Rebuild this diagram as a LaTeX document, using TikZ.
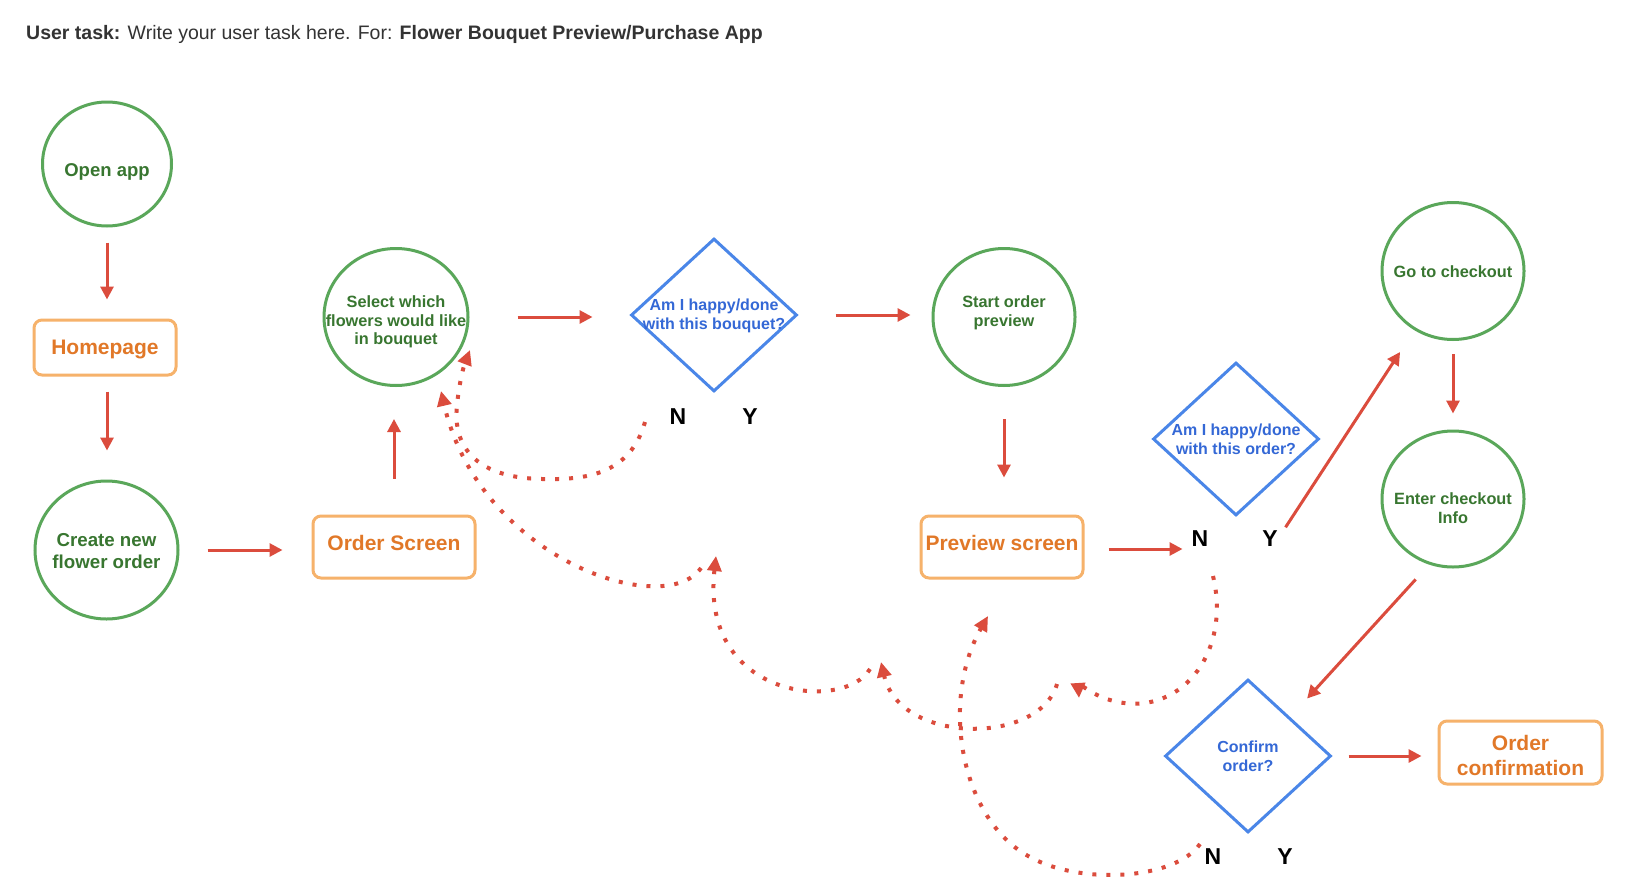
\documentclass[tikz,border=0pt]{standalone}
\usepackage{fontspec}
\setmainfont{Liberation Sans}
\usetikzlibrary{shapes.geometric,arrows.meta}
\definecolor{ared}{RGB}{219,76,61}
\definecolor{cgreen}{RGB}{90,167,90}
\definecolor{tgreen}{RGB}{56,118,48}
\definecolor{corange}{RGB}{246,178,107}
\definecolor{torange}{RGB}{225,120,40}
\definecolor{cblue}{RGB}{74,134,232}
\definecolor{tblue}{RGB}{52,104,214}
\definecolor{tgray}{RGB}{51,51,51}
\begin{document}
\begin{tikzpicture}[x=1pt,y=-1pt,
  circ/.style={ellipse, draw=cgreen, line width=3pt, minimum width=142pt, minimum height=137pt, inner sep=0pt},
  ctext/.style={text=tgreen, align=center, font=\bfseries\fontsize{16.3}{18.7}\selectfont},
  box/.style={rectangle, rounded corners=8pt, draw=corange, line width=3pt, minimum width=162pt, minimum height=62pt, inner sep=0pt},
  btext/.style={text=torange, align=center, font=\bfseries\fontsize{21}{25}\selectfont},
  dia/.style={diamond, draw=cblue, line width=3pt, minimum width=166pt, minimum height=153pt, inner sep=0pt},
  dtext/.style={text=tblue, align=center, font=\bfseries\fontsize{16}{18.7}\selectfont},
  yn/.style={font=\bfseries\fontsize{23}{23}\selectfont, inner sep=0pt},
  arr/.style={draw=ared, line width=3pt, -{Triangle[length=13pt,width=13pt]}},
  dots/.style={draw=ared, line width=4pt, dash pattern=on 4pt off 10pt, -{Triangle[length=15pt,width=14pt]}}
]
\useasboundingbox[fill=white] (0,0) rectangle (1630,886);

\node[anchor=west, text=tgray, font=\fontsize{19.5}{23}\selectfont, inner sep=0pt] (title) at (26,34)
  {\textbf{User task:} Write your user task here. For: \textbf{Flower Bouquet Preview/Purchase App}};

% circles
\node[circ, minimum width=129pt, minimum height=124pt, label={[ctext, font=\bfseries\fontsize{18.5}{21}\selectfont, yshift=-8pt]center:Open app}] (open) at (107,164) {};
\node[circ, minimum width=143pt, minimum height=138pt, label={[ctext, font=\bfseries\fontsize{18.7}{22.5}\selectfont, yshift=-1pt]center:{Create new\\flower order}}] (create) at (106.5,550) {};
\node[circ, minimum width=144pt, label={[ctext, yshift=-5pt]center:{Select which\\flowers would like\\in bouquet}}] (select) at (396,317) {};
\node[circ, label={[ctext, yshift=4pt]center:{Start order\\preview}}] (start) at (1004,317) {};
\node[circ, label={[ctext, yshift=-1pt]center:Go to checkout}] (go) at (1453,271) {};
\node[circ, minimum height=136pt, label={[ctext, yshift=-9pt]center:{Enter checkout\\Info}}] (enter) at (1453,499) {};

% boxes
\node[box, minimum width=142pt, minimum height=55pt, label={[btext, yshift=-2pt]center:Homepage}] (home) at (105,347.5) {};
\node[box, label={[btext, yshift=4pt]center:Order Screen}] (order) at (394,547) {};
\node[box, label={[btext, yshift=4pt]center:Preview screen}] (preview) at (1002,547) {};
\node[box, minimum width=163pt, minimum height=63pt, label={[btext, yshift=-3pt]center:{Order\\confirmation}}] (oconf) at (1520.5,752.5) {};

% diamonds
\node[dia, label={[dtext, yshift=-1pt]center:{Am I happy/done\\with this bouquet?}}] (d1) at (714,315) {};
\node[dia, label={[dtext]center:{Am I happy/done\\with this order?}}] (d2) at (1236,439) {};
\node[dia, label={[dtext]center:{Confirm\\order?}}] (confirm) at (1248,756) {};

% N / Y labels
\node[yn] (n1) at (678,417) {N};
\node[yn] (y1) at (750,417) {Y};
\node[yn] (n2) at (1200,539) {N};
\node[yn] (y2) at (1270,539) {Y};
\node[yn] (n3) at (1213,857) {N};
\node[yn] (y3) at (1285,857) {Y};

% solid connectors
\draw[arr, shorten <=15pt, shorten >=19pt] (open.south) -- (open.south |- home.north);
\draw[arr, shorten <=15pt, shorten >=29pt] (open.south |- home.south) -- (open.south |- create.north);
\draw[arr, shorten <=28pt, shorten >=29pt] (create.east) -- (create.east -| order.west);
\draw[arr, shorten <=36pt, shorten >=32pt] (order.north) -- (order.north |- select.south);
\draw[arr, shorten <=48pt, shorten >=37pt] (select.east) -- (select.east -| d1.west);
\draw[arr, shorten <=37pt, shorten >=21pt] (d1.east) -- (d1.east -| start.west);
\draw[arr, shorten <=32pt, shorten >=37pt] (start.south) -- (start.south |- preview.north);
\draw[arr, shorten <=24pt, shorten >=9pt] ([yshift=-2pt]preview.east) -- ([yshift=-2pt]preview.east -| n2.west);
\draw[arr, shorten <=14pt, shorten >=26pt] (y2.east) -- (go);
\draw[arr, shorten <=13pt, shorten >=16pt] (go.south) -- (enter.north);
\draw[arr, shorten <=20pt, shorten >=25pt] (enter.-110) -- (confirm.north east);
\draw[arr, shorten <=16pt, shorten >=16pt] (confirm.east) -- (confirm.east -| oconf.west);

% free ends of the dotted return arrows
\coordinate (a0) at (645,422);
\coordinate (a1) at (470,350);
\coordinate (b0) at (701,568);
\coordinate (b1) at (441,391);
\coordinate (c0) at (870,669);
\coordinate (c1) at (716,556);
\coordinate (g0) at (1057,684);
\coordinate (g1) at (881,662);
\coordinate (f0) at (1213,576);
\coordinate (f1) at (1079,698);
\coordinate (e0) at (1200,844);
\coordinate (e1) at (988,616);

% dotted return connectors
\draw[dots] (a0) .. controls (630,475) and (585,480) .. (542,479)
  .. controls (480,478) and (452,450) .. (457,405)
  .. controls (459,385) and (463,368) .. (a1);
\draw[dots] (b0) .. controls (665,620) and (480,560) .. (b1);
\draw[dots] (c0) .. controls (845,712) and (700,700) .. (c1);
\draw[dots] (g0) .. controls (1040,745) and (900,745) .. (g1);
\draw[dots] (f0) .. controls (1232,655) and (1178,720) .. (1110,700)
  .. controls (1092,695) and (1078,682) .. (f1);
\draw[dots] (e0) .. controls (1175,880) and (1080,885) .. (1030,857)
  .. controls (960,820) and (940,700) .. (e1);
\end{tikzpicture}
\end{document}
